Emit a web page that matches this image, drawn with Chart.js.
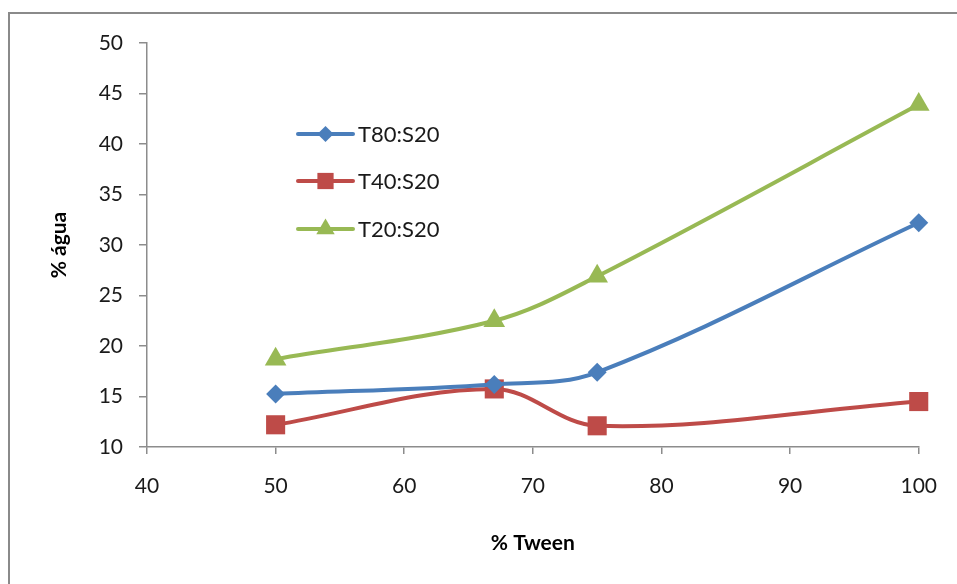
<!DOCTYPE html>
<html>
<head>
<meta charset="utf-8">
<script src="https://cdn.jsdelivr.net/npm/chart.js@4/dist/chart.umd.min.js"></script>
<style>
  html, body { margin: 0; padding: 0; background: #ffffff; }
  #wrap { width: 957px; height: 584px; position: relative; }
</style>
</head>
<body>
<div id="wrap"><canvas id="c" width="957" height="584"></canvas></div>
<script>
// % Tween on the x axis
const tween = [50, 67, 75, 100];
// % água for each surfactant ratio
const t80s20 = [15.25, 16.2, 17.4, 32.2];
const t40s20 = [12.2, 15.75, 12.1, 14.5];
const t20s20 = [18.7, 22.5, 26.9, 43.9];
const seriesNames = ['T80:S20', 'T40:S20', 'T20:S20'];
const xTicks = [40, 50, 60, 70, 80, 90, 100];
const yTicks = [10, 15, 20, 25, 30, 35, 40, 45, 50];

const FONT = 'Lato, "Open Sans", sans-serif';
const AXIS = '#8c8c8c';

const pts = vals => tween.map((x, i) => ({ x: x, y: vals[i] }));

const styles = [
  { color: '#4a7ebb', pointStyle: 'rectRot', radius: 9.5 },
  { color: '#be4b48', pointStyle: 'rect', radius: 13.5 },
  { color: '#98b954', pointStyle: 'triangle', radius: 12.5 }
];

const datasets = [t80s20, t40s20, t20s20].map((vals, i) => ({
  label: seriesNames[i],
  data: pts(vals),
  borderColor: styles[i].color,
  backgroundColor: styles[i].color,
  borderWidth: 4,
  pointStyle: styles[i].pointStyle,
  pointRadius: styles[i].radius,
  pointBorderWidth: 0,
  pointBackgroundColor: styles[i].color,
  tension: 0.35,
  clip: false,
  fill: false
}));

// Outer frame of the chart
const framePlugin = {
  id: 'frame',
  beforeDraw(chart) {
    const ctx = chart.ctx;
    ctx.save();
    ctx.fillStyle = '#ffffff';
    ctx.fillRect(0, 0, chart.width, chart.height);
    ctx.strokeStyle = '#8a8a8a';
    ctx.lineWidth = 2;
    ctx.strokeRect(9, 13, chart.width + 20, chart.height + 20);
    ctx.restore();
  }
};

// Legend drawn inside the plot area
const legendPlugin = {
  id: 'innerLegend',
  afterDatasetsDraw(chart) {
    const ctx = chart.ctx;
    const x0 = 298, x1 = 353, tx = 358;
    const rows = [134, 181, 229];
    ctx.save();
    chart.data.datasets.forEach((ds, i) => {
      const y = rows[i];
      ctx.strokeStyle = ds.borderColor;
      ctx.lineWidth = 4;
      ctx.lineCap = 'round';
      ctx.beginPath();
      ctx.moveTo(x0, y);
      ctx.lineTo(x1, y);
      ctx.stroke();
      ctx.fillStyle = ds.borderColor;
      ctx.strokeStyle = ds.borderColor;
      Chart.helpers.drawPoint(ctx, {
        pointStyle: ds.pointStyle,
        radius: ds.pointRadius * 0.85,
        rotation: 0,
        borderWidth: 0
      }, (x0 + x1) / 2, y);
      ctx.fillStyle = '#1a1a1a';
      ctx.font = '22px ' + FONT;
      ctx.textAlign = 'left';
      ctx.textBaseline = 'middle';
      ctx.fillText(ds.label, tx, y + 1);
    });
    ctx.restore();
  }
};

new Chart(document.getElementById('c'), {
  type: 'line',
  data: { datasets: datasets },
  plugins: [framePlugin, legendPlugin],
  options: {
    responsive: false,
    animation: false,
    layout: { padding: { left: 0, right: 37, top: 43, bottom: 0 } },
    plugins: {
      legend: { display: false },
      tooltip: { enabled: false }
    },
    scales: {
      x: {
        type: 'linear',
        min: 40,
        max: 100,
        afterFit(scale) { scale.height = 137; },
        afterBuildTicks(scale) { scale.ticks = xTicks.map(v => ({ value: v })); },
        ticks: {
          color: '#1a1a1a',
          font: { family: FONT, size: 21 },
          padding: 20,
          maxRotation: 0
        },
        grid: {
          drawOnChartArea: false,
          drawTicks: true,
          tickLength: 7,
          color: AXIS,
          lineWidth: 1.5
        },
        border: { display: true, color: AXIS, width: 1.5 },
        title: {
          display: true,
          text: '% Tween',
          color: '#000000',
          font: { family: FONT, size: 21, weight: 'bold' },
          padding: { top: 0, bottom: 28 }
        }
      },
      y: {
        type: 'linear',
        min: 10,
        max: 50,
        afterFit(scale) { scale.width = 147; },
        afterBuildTicks(scale) { scale.ticks = yTicks.map(v => ({ value: v })); },
        ticks: {
          color: '#1a1a1a',
          font: { family: FONT, size: 21 },
          padding: 16
        },
        grid: {
          drawOnChartArea: false,
          drawTicks: true,
          tickLength: 8,
          color: AXIS,
          lineWidth: 1.5
        },
        border: { display: true, color: AXIS, width: 1.5 },
        title: {
          display: true,
          text: '% água',
          color: '#000000',
          font: { family: FONT, size: 21, weight: 'bold' },
          padding: { top: 47, bottom: 0 }
        }
      }
    }
  }
});
</script>
</body>
</html>
